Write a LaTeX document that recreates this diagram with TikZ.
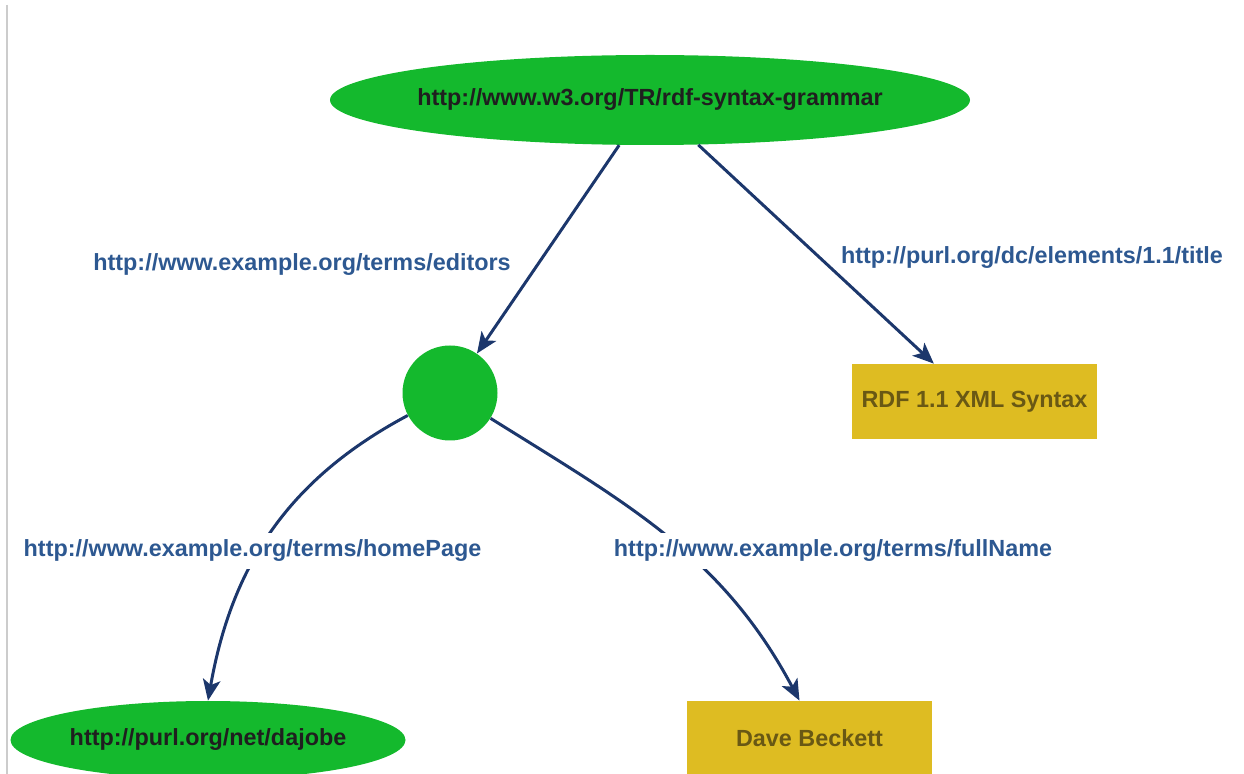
\documentclass[tikz,border=0pt]{standalone}
\usepackage{fontspec}
\setmainfont{Liberation Sans}
\usetikzlibrary{arrows.meta,shapes.geometric}

\definecolor{resgreen}{RGB}{20,185,45}
\definecolor{litgold}{RGB}{222,188,34}
\definecolor{littext}{RGB}{105,88,20}
\definecolor{propblue}{RGB}{45,88,145}
\definecolor{propnavy}{RGB}{28,55,108}

\begin{document}
\begin{tikzpicture}[
    every node/.style={font=\bfseries\fontsize{13.3}{15}\selectfont},
    resource/.style={ellipse,fill=resgreen,inner sep=0pt,
      label={[text=black!88]center:#1}},
    literal/.style={rectangle,fill=litgold,inner sep=0pt,text=littext,
      minimum width=4.9cm,minimum height=1.5cm},
    prop/.style={-{Stealth[length=12pt,width=10pt,inset=3pt]},draw=propnavy,line width=1.7pt},
    proplabel/.style={text=propblue},
    onedge/.style={fill=white,inner sep=4pt}
  ]
      \useasboundingbox (0,0) rectangle (24.88,-15.48);
      \draw[black!20,line width=1.2pt] (0.14,-0.1) -- (0.14,-15.48);

      % nodes
      \node[resource=http://www.w3.org/TR/rdf-syntax-grammar,minimum width=12.8cm,minimum height=1.8cm] (doc) at (13,-2) {};
      \node[circle,fill=resgreen,minimum size=1.9cm] (editor) at (9,-7.86) {};
      \node[literal] (title) at (19.49,-8.03) {RDF 1.1 XML Syntax};
      \node[resource=http://purl.org/net/dajobe,minimum width=7.9cm,minimum height=1.56cm] (home) at (4.16,-14.8) {};
      \node[literal] (name) at (16.19,-14.77) {Dave Beckett};

      % properties
      \draw[prop] (doc) -- (editor);
      \draw[prop] (doc) -- (title);
      \draw[prop] (editor) to[out=208,in=80] (home.north);
      \draw[prop] (editor) to[out=-32,in=118] ([xshift=-0.2cm]name.north);

      \node[proplabel] (editorslabel) at (6.04,-5.3) {http://www.example.org/terms/editors};
      \node[proplabel] (titlelabel) at (20.64,-5.16) {http://purl.org/dc/elements/1.1/title};
      \node[proplabel,onedge] (homelabel) at (5.05,-11.02) {http://www.example.org/terms/homePage};
      \node[proplabel,onedge] (namelabel) at (16.66,-11.02) {http://www.example.org/terms/fullName};
\end{tikzpicture}
\end{document}
